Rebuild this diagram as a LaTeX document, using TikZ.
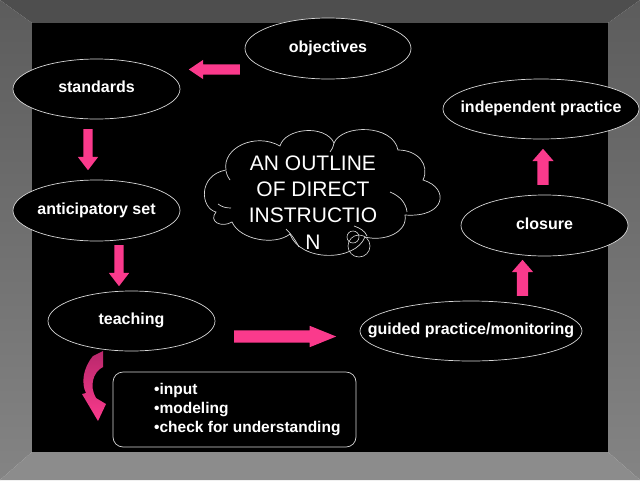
\documentclass[tikz,border=0pt]{standalone}
\usepackage{fontspec}
\setmainfont{Liberation Sans}
\usetikzlibrary{shapes.geometric,shapes.arrows}
\definecolor{hotpink}{RGB}{250,58,140}
\definecolor{darkpink}{RGB}{185,40,108}
\definecolor{edgegray}{RGB}{215,215,215}
\definecolor{frametop}{RGB}{78,78,78}
\definecolor{framesidetop}{RGB}{92,92,92}
\definecolor{framesidebot}{RGB}{132,132,132}
\definecolor{framebot}{RGB}{140,140,140}
\begin{document}
\begin{tikzpicture}[x=1pt,y=-1pt,
  oval/.style={ellipse, draw=edgegray, line width=0.7pt, fill=black, inner sep=0pt},
  lbl/.style={text=white, inner sep=0pt, text height=11pt, text depth=3.5pt,
    font=\fontsize{16}{18}\selectfont\bfseries},
  blockarrow/.style={single arrow, fill=hotpink, draw=none, inner xsep=0pt,
    single arrow head indent=0pt, anchor=tail},
  bubble/.style={circle, draw=edgegray, line width=0.6pt, inner sep=0pt},
  cloudline/.style={draw=edgegray, line width=0.7pt},
]
\useasboundingbox (0,0) rectangle (640,480);
% background frame
\fill[frametop] (0,0) -- (640,0) -- (608,23) -- (32,23) -- cycle;
\shade[top color=framesidetop, bottom color=framesidebot] (0,0) -- (32,23) -- (32,452) -- (0,480) -- cycle;
\shade[top color=framesidetop, bottom color=framesidebot] (640,0) -- (608,23) -- (608,452) -- (640,480) -- cycle;
\fill[framebot] (0,480) -- (32,452) -- (608,452) -- (640,480) -- cycle;
\fill[black] (32,23) rectangle (608,452);

% ovals
\node[oval, minimum width=166pt, minimum height=61pt] (obj) at (328,48.5) {};
\node[lbl] (objt) at (obj) {objectives};
\node[oval, minimum width=167pt, minimum height=60pt] (std) at (96.5,89) {};
\node[lbl] (stdt) at (std) {standards};
\node[oval, minimum width=167pt, minimum height=61pt] (ant) at (96.5,210.5) {};
\node[lbl] (antt) at (ant) {anticipatory set};
\node[oval, minimum width=167pt, minimum height=60pt] (teach) at (131.5,321) {};
\node[lbl] (teacht) at (teach) {teaching};
\node[oval, minimum width=222pt, minimum height=60pt] (guided) at (471,331) {};
\node[lbl] (guidedt) at (guided) {guided practice/monitoring};
\node[oval, minimum width=167pt, minimum height=61pt] (clos) at (544.5,225.5) {};
\node[lbl] (clost) at (clos) {closure};
\node[oval, minimum width=196pt, minimum height=60pt] (indep) at (541,109) {};
\node[lbl] (indept) at (indep) {independent practice};

% cloud callout drawn directly
\path[cloudline, fill=black]
  (216,212) .. controls (200,208) and (198,175) .. (226,170)
  .. controls (222,148) and (255,132) .. (280,146)
  .. controls (285,128) and (325,124) .. (334,143)
  .. controls (342,124) and (393,124) .. (398,150)
  .. controls (418,150) and (430,165) .. (423,180)
  .. controls (450,188) and (446,218) .. (405,215)
  .. controls (408,232) and (385,242) .. (365,237)
  .. controls (355,262) and (300,262) .. (290,234)
  .. controls (275,246) and (240,240) .. (232,222)
  .. controls (222,228) and (208,222) .. (216,212) -- cycle;
% inner arcs of the cloud
\draw[cloudline] (390,192) .. controls (400,196) and (406,203) .. (407,212);
\draw[cloudline] (354,226) .. controls (360,228) and (365,231) .. (367,236);
\draw[cloudline] (286,229) .. controls (292,235) and (296,241) .. (299,247);
\draw[cloudline] (218,204) .. controls (222,207) and (226,208) .. (231,208);
\draw[cloudline] (226,171) .. controls (227,175) and (228,178) .. (230,180);
\draw[cloudline] (334,143) .. controls (333,147) and (332,150) .. (330,152);

\node[text=white, align=center, inner sep=0pt,
  font=\fontsize{21}{26.3}\selectfont] (title) at (313,202.5)
  {AN OUTLINE\\OF DIRECT\\INSTRUCTIO\\N};
\node[bubble, minimum size=22pt] (bub2) at (359,246) {};
\node[bubble, minimum size=12pt] (bub1) at (353,237) {};

% block arrows (placed by their tails)
\node[blockarrow, rotate=180, minimum height=51pt, inner ysep=5pt,
  single arrow head extend=4.5pt, single arrow tip angle=68] (a1) at (240,69.5) {};
\node[blockarrow, rotate=-90, minimum height=41pt, inner ysep=4.5pt,
  single arrow head extend=5.5pt, single arrow tip angle=75] (a2) at (88,129) {};
\node[blockarrow, rotate=-90, minimum height=41pt, inner ysep=4.5pt,
  single arrow head extend=5.5pt, single arrow tip angle=75] (a3) at (119,245) {};
\node[blockarrow, minimum height=102pt, inner ysep=6pt,
  single arrow head extend=4.5pt, single arrow tip angle=44] (a4) at (234,336.5) {};
\node[blockarrow, rotate=90, minimum height=36pt, inner ysep=5.5pt,
  single arrow head extend=5pt, single arrow tip angle=82] (a5) at (522.5,296) {};
\node[blockarrow, rotate=90, minimum height=36pt, inner ysep=5.5pt,
  single arrow head extend=5pt, single arrow tip angle=82] (a6) at (543,185) {};

% curved arrow from teaching to the list
\shade[top color=darkpink, bottom color=hotpink]
  (93,356) .. controls (83,368) and (81,383) .. (86,393) -- (82,394) -- (98,421)
  -- (106,404) -- (96,398) .. controls (89,386) and (93,372) .. (103,367)
  -- (103,351) -- cycle;

% list box
\node[draw=edgegray, rounded corners=10pt, line width=0.7pt, fill=black,
  minimum width=243pt, minimum height=75pt] (box) at (234.5,409.5) {};
\node[anchor=west, align=left, text=white, inner sep=0pt,
  font=\fontsize{15.5}{19}\selectfont\bfseries] (boxt) at (154,410)
  {•input\\•modeling\\•check for understanding};
\end{tikzpicture}
\end{document}
